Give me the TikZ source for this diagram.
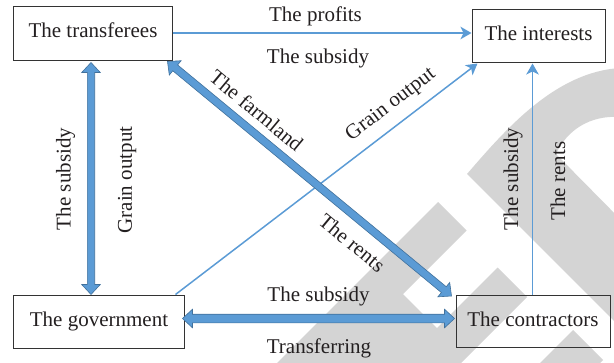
\documentclass[tikz,border=0pt]{standalone}
\usepackage{fontspec}
\setmainfont{Liberation Serif}
\usetikzlibrary{arrows.meta,calc}

\definecolor{lineblue}{HTML}{5B9BD5}
\definecolor{edgeblue}{HTML}{41719C}
\definecolor{markgray}{HTML}{D4D4D4}
\definecolor{ink}{HTML}{231F20}

% double-headed block arrow from #1 to #2, shaft half-width #3
\newcommand{\blockarrow}[3]{%
  \draw[blockstyle]
    (#1)
    -- ($(#1)!10bp!(#2)!9.3bp!90:(#2)$)
    -- ($(#1)!10bp!(#2)!#3!90:(#2)$)
    -- ($(#2)!10bp!(#1)!#3!-90:(#1)$)
    -- ($(#2)!10bp!(#1)!9.3bp!-90:(#1)$)
    -- (#2)
    -- ($(#2)!10bp!(#1)!9.3bp!90:(#1)$)
    -- ($(#2)!10bp!(#1)!#3!90:(#1)$)
    -- ($(#1)!10bp!(#2)!#3!-90:(#2)$)
    -- ($(#1)!10bp!(#2)!9.3bp!-90:(#2)$)
    -- cycle;}

\tikzset{
  txt/.style={font=\fontsize{21bp}{25bp}\selectfont, text=ink,
    text height=14bp, text depth=4.5bp, inner sep=0pt},
  box/.style={txt, draw=black!80, line width=1bp},
  thin/.style={draw=lineblue, line width=1.5bp,
    -{Stealth[length=11bp,width=12.5bp,inset=3bp]}},
  blockstyle/.style={fill=lineblue, draw=edgeblue, line width=0.6bp,
    line join=miter},
}

\begin{document}
\begin{tikzpicture}[x=1bp, y=-1bp]
\useasboundingbox (0,0) rectangle (614,362);

% background mark in the lower right
\begin{scope}
  \clip (0,0) rectangle (614,362);
  \fill[markgray] (438,202) -- (466.5,230.5) -- (403,294) -- (437,328)
    -- (497.5,267.5) -- (527,297) -- (377,447) -- (188,452) -- cycle;
  \fill[markgray] (573,330) -- (603,360) -- (503,460) -- (473,430) -- cycle;
  \fill[markgray] (700,407) -- (467,174)
    .. controls (505,130) and (555,72) .. (620,68)
    -- (620,117)
    .. controls (590,115) and (567,130) .. (556,154)
    -- (700,300) -- cycle;
\end{scope}

% actors
\node[box, minimum width=158bp, minimum height=54bp] (tr)  at (93,33)    {The transferees};
\node[box, minimum width=133bp, minimum height=53bp] (in)  at (538.5,35.5) {The interests};
\node[box, minimum width=170bp, minimum height=53bp] (gov) at (99,321.5) {The government};
\node[box, minimum width=154bp, minimum height=52bp] (con) at (533,321.5) {The contractors};

% end points of the block arrows
\coordinate (v1) at ($(tr.south)+(-2,2)$);
\coordinate (v2) at (v1 |- gov.north);
\coordinate (d1) at ($(tr.south east)+(-5,1)$);
\coordinate (d2) at ($(con.north west)+(-4,1)$);
\coordinate (h1) at ($(gov.east)+(-2,-3)$);
\coordinate (h2) at ($(h1 -| con.west)+(-1,0)$);

% thin flows
\draw[thin] (tr.east) -- (tr.east -| in.west);
\draw[thin] ($(gov.north east)+(-9,0)$) -- ($(in.south west)+(6,1)$);
\coordinate (c1) at ($(con.north)+(-0.5,0)$);
\draw[thin, shorten >=1bp] (c1) -- (c1 |- in.south);

% block flows
\blockarrow{v1}{v2}{3.7bp}
\blockarrow{d1}{d2}{3.8bp}
\blockarrow{h1}{h2}{4.3bp}

% labels
\node[txt] (l1) at (315.5,16.3) {The profits};
\node[txt] (l2) at (318,58.5) {The subsidy};
\node[txt, rotate=90] (l3) at (65.8,179) {The subsidy};
\node[txt, rotate=90] (l4) at (127,180) {Grain output};
\node[txt, rotate=-39.7] (l5) at (255,112.5) {The farmland};
\node[txt, rotate=-39.7] (l6) at (350.6,244.7) {The rents};
\node[txt, rotate=37.4] (l7) at (391,105) {Grain output};
\node[txt, rotate=90] (l8) at (513.3,179) {The subsidy};
\node[txt, rotate=90] (l9) at (560.3,181) {The rents};
\node[txt] (l10) at (318.5,297) {The subsidy};
\node[txt] (l11) at (319,348.5) {Transferring};
\end{tikzpicture}
\end{document}
